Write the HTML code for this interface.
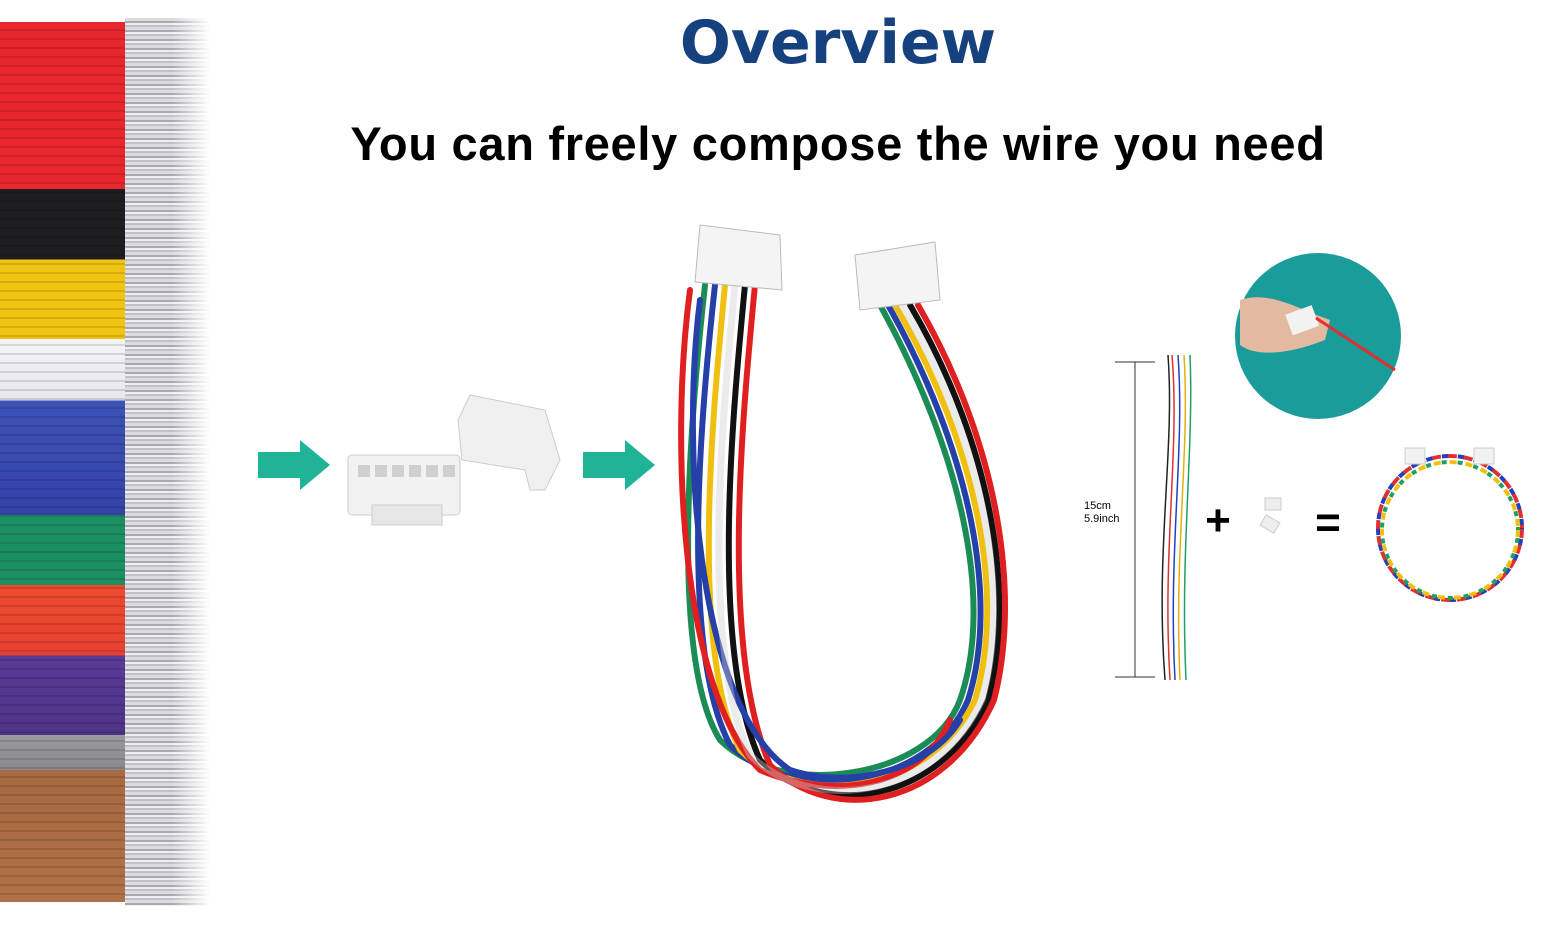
<!DOCTYPE html>
<html><head><meta charset="utf-8"><style>
body{margin:0;width:1556px;height:930px;background:#fff;position:relative;overflow:hidden;font-family:"Liberation Sans",sans-serif}
#wires{position:absolute;left:0;top:22px;width:140px;height:880px;
background:
repeating-linear-gradient(180deg,rgba(0,0,0,0) 0 7px,rgba(0,0,0,.12) 7px 9px),
linear-gradient(180deg,#e8262e 0,#e8262e 19%,#1d1d22 19%,#1d1d22 27%,#f0c410 27%,#f0c410 36%,#f4f4f8 36%,#e6e6ee 43%,#3e52b8 43%,#3442a8 56%,#1c8f62 56%,#1c8f62 64%,#ee4b2f 64%,#e84030 72%,#5a3a98 72%,#4e3488 81%,#9a9a9e 81%,#8a8a8e 85%,#a86a42 85%,#b07048 100%)}
#term{position:absolute;left:125px;top:18px;width:85px;height:888px;
background:repeating-linear-gradient(180deg,#dcdce0 0 3px,#a8a8ae 3px 5px,#eeeef2 5px 7px,#c0c0c6 7px 9px);
-webkit-mask:linear-gradient(90deg,#000 55%,transparent);mask:linear-gradient(90deg,#000 55%,transparent)}
h1{position:absolute;left:0;width:1676px;top:8px;margin:0;text-align:center;font-family:"DejaVu Sans",sans-serif;font-size:60px;font-weight:bold;color:#15417e}
h2{position:absolute;left:0;width:1676px;top:116px;margin:0;text-align:center;font-size:47px;letter-spacing:0.7px;font-weight:bold;color:#000}
</style></head><body>
<div id="wires"></div><div id="term"></div>
<h1>Overview</h1>
<h2>You can freely compose the wire you need</h2>
<svg width="1556" height="930" style="position:absolute;left:0;top:0">
<polygon points="258,452 300,452 300,440 330,465 300,490 300,478 258,478" fill="#1fb497"/>
<polygon points="583,452 625,452 625,440 655,465 625,490 625,478 583,478" fill="#1fb497"/>
<rect x="348" y="455" width="112" height="60" rx="4" fill="#f2f2f2" stroke="#ccc"/>
<rect x="372" y="505" width="70" height="20" fill="#e6e6e6" stroke="#ccc"/>
<g fill="#d0d0d0"><rect x="358" y="465" width="12" height="12"/><rect x="375" y="465" width="12" height="12"/><rect x="392" y="465" width="12" height="12"/><rect x="409" y="465" width="12" height="12"/><rect x="426" y="465" width="12" height="12"/><rect x="443" y="465" width="12" height="12"/></g>
<polygon points="470,395 545,410 560,460 545,490 530,490 525,470 462,460 458,420" fill="#f0f0f0" stroke="#ccc"/>
<g fill="none" stroke-width="6" stroke-linecap="round">
<path d="M705,285 C690,420 670,660 720,740 C780,800 930,780 960,700 C995,600 960,450 880,305" stroke="#1b8c55"/>
<path d="M715,285 C700,420 680,650 730,745 C790,805 930,790 968,700 C1000,600 970,450 888,305" stroke="#2540a8"/>
<path d="M725,285 C712,420 690,650 740,750 C800,810 930,795 975,700 C1005,600 980,450 895,305" stroke="#f0c010"/>
<path d="M735,285 C722,420 700,650 750,755 C810,815 935,800 982,700 C1010,600 988,450 902,305" stroke="#fff" />
<path d="M745,285 C732,420 710,650 760,760 C820,820 940,805 988,700 C1015,600 995,450 910,305" stroke="#111"/>
<path d="M755,285 C742,420 720,650 770,765 C830,825 945,810 994,700 C1020,600 1002,450 918,305" stroke="#e02020"/>
<path d="M690,290 C670,440 680,690 760,770 C830,800 920,790 950,720" stroke="#e02020"/>
<path d="M700,300 C680,460 700,710 790,770 C850,790 930,770 960,720" stroke="#2540a8"/>
</g>
<path d="M735,285 C722,420 700,650 750,755 C810,815 935,800 982,700 C1010,600 988,450 902,305" stroke="#ccc" stroke-width="7" fill="none" opacity=".4"/>
<polygon points="700,225 780,235 782,290 695,282" fill="#f4f4f4" stroke="#bbb"/>
<polygon points="855,255 935,242 940,300 860,310" fill="#f4f4f4" stroke="#bbb"/>
<line x1="1135" y1="362" x2="1135" y2="677" stroke="#333"/>
<line x1="1115" y1="362" x2="1155" y2="362" stroke="#333"/>
<line x1="1115" y1="677" x2="1155" y2="677" stroke="#333"/>
<g fill="none" stroke-width="1.5">
<path d="M1168,355 C1175,450 1155,550 1165,680" stroke="#222"/>
<path d="M1172,355 C1180,450 1162,550 1170,680" stroke="#e03030"/>
<path d="M1178,355 C1185,450 1168,550 1175,680" stroke="#2040c0"/>
<path d="M1184,355 C1190,450 1174,550 1180,680" stroke="#e0b010"/>
<path d="M1190,355 C1194,450 1180,550 1186,680" stroke="#20a060"/>
</g>
<text x="1084" y="509" font-size="11" font-family="Liberation Sans">15cm</text>
<text x="1084" y="522" font-size="11" font-family="Liberation Sans">5.9inch</text>
<text x="1218" y="535" font-size="44" font-weight="bold" text-anchor="middle" font-family="Liberation Sans">+</text>
<text x="1328" y="537" font-size="44" font-weight="bold" text-anchor="middle" font-family="Liberation Sans">=</text>
<rect x="1265" y="498" width="16" height="12" fill="#eee" stroke="#ccc"/>
<rect x="1262" y="518" width="16" height="12" fill="#eee" stroke="#ccc" transform="rotate(30 1270 524)"/>
<circle cx="1318" cy="336" r="83" fill="#1a9c9a"/>
<path d="M1240,300 C1270,290 1300,310 1330,320 L1325,340 C1300,350 1260,360 1240,345Z" fill="#e4b9a2"/>
<rect x="1288" y="310" width="28" height="22" fill="#f2f2f2" transform="rotate(-20 1300 320)"/>
<line x1="1316" y1="318" x2="1395" y2="370" stroke="#e03030" stroke-width="3"/>
<g fill="none" stroke-width="4">
<circle cx="1450" cy="528" r="72" stroke="#e03030" stroke-dasharray="10 6"/>
<circle cx="1450" cy="528" r="72" stroke="#2040c0" stroke-dasharray="6 10" stroke-dashoffset="5"/>
<circle cx="1450" cy="530" r="68" stroke="#f0c010" stroke-dasharray="7 9"/>
<circle cx="1450" cy="530" r="68" stroke="#20a060" stroke-dasharray="5 11" stroke-dashoffset="8"/>
</g>
<rect x="1405" y="448" width="20" height="16" fill="#f2f2f2" stroke="#ccc"/>
<rect x="1474" y="448" width="20" height="16" fill="#f2f2f2" stroke="#ccc"/>
</svg>
</body></html>
